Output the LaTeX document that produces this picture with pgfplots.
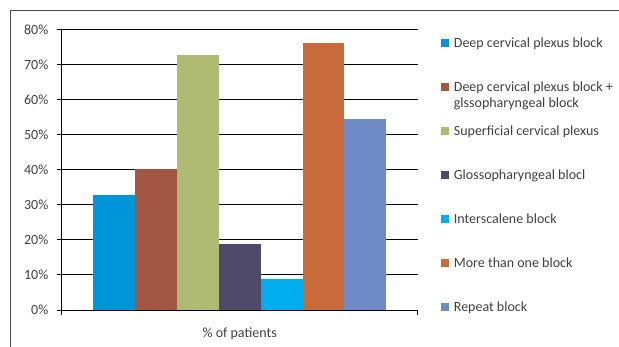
\documentclass[border=0pt]{standalone}
\usepackage{pgfplots}
\pgfplotsset{compat=1.18}
\usepackage{fontspec}
\setmainfont{Carlito}
\definecolor{c1}{HTML}{0094D8}
\definecolor{c2}{HTML}{A35642}
\definecolor{c3}{HTML}{AFBA72}
\definecolor{c4}{HTML}{4F4A6A}
\definecolor{c5}{HTML}{00AEEF}
\definecolor{c6}{HTML}{C96A3A}
\definecolor{c7}{HTML}{6E8BC6}
\definecolor{txt}{HTML}{404040}
\begin{document}
\begin{tikzpicture}
\fontsize{14bp}{16bp}\selectfont
\begin{axis}[
  scale only axis,
  width=356bp, height=280.5bp,
  xmin=-0.5, xmax=0.5,
  ymin=0, ymax=80,
  ybar=0pt, bar width=41.9bp,
  xtick={-0.5,0.5}, xticklabels={},
  ytick={0,10,...,80},
  yticklabel={\pgfmathprintnumber{\tick}\%},
  /pgf/number format/assume math mode=true,
  tick align=outside,
  major tick length=4.5bp,
  tick style={black, line width=1bp},
  axis x line*=bottom, axis y line*=left,
  axis line style={black, line width=1bp},
  ymajorgrids, major grid style={black, line width=1bp},
  ticklabel style={font=\fontsize{14bp}{16bp}\selectfont, text=txt},
  yticklabel style={anchor=east, xshift=-4bp},
  xlabel={\% of patients},
  xlabel style={at={(axis description cs:0.5,0)}, anchor=base, yshift=-27.5bp, text=txt, font=\fontsize{14bp}{16bp}\selectfont},
  legend cell align=left,
  legend image code/.code={\fill[#1,draw=none] (0bp,0.5bp) rectangle (8bp,8.5bp);},
  legend style={draw=none, fill=none, at={(1,1)}, anchor=north west,
    xshift=23bp, yshift=12bp, inner sep=0pt, row sep=0pt,
    font=\fontsize{14bp}{16bp}\selectfont, text=txt,
    nodes={text height=30bp, text depth=14bp, inner sep=0pt, anchor=base west},
    /tikz/every odd column/.style={column sep=5bp}},
]
\addplot[fill=c1, draw=none] coordinates {(0,32.8)};
\addlegendentry{Deep cervical plexus block}
\addplot[fill=c2, draw=none] coordinates {(0,40.2)};
\addlegendentry{\begin{tabular}[t]{@{}l@{}}Deep cervical plexus block +\\ glssopharyngeal block\end{tabular}}
\addplot[fill=c3, draw=none] coordinates {(0,72.7)};
\addlegendentry{Superficial cervical plexus}
\addplot[fill=c4, draw=none] coordinates {(0,18.8)};
\addlegendentry{Glossopharyngeal blocl}
\addplot[fill=c5, draw=none] coordinates {(0,8.8)};
\addlegendentry{Interscalene block}
\addplot[fill=c6, draw=none] coordinates {(0,76.1)};
\addlegendentry{More than one block}
\addplot[fill=c7, draw=none] coordinates {(0,54.5)};
\addlegendentry{Repeat block}
\end{axis}
\draw[gray!60!black, line width=1bp] (-51bp,-40bp) -- (-51bp,299bp) -- (560bp,299bp);
\pgfresetboundingbox
\path[use as bounding box] (-61.7bp,-37bp) rectangle (557.3bp,310bp);
\end{tikzpicture}
\end{document}
